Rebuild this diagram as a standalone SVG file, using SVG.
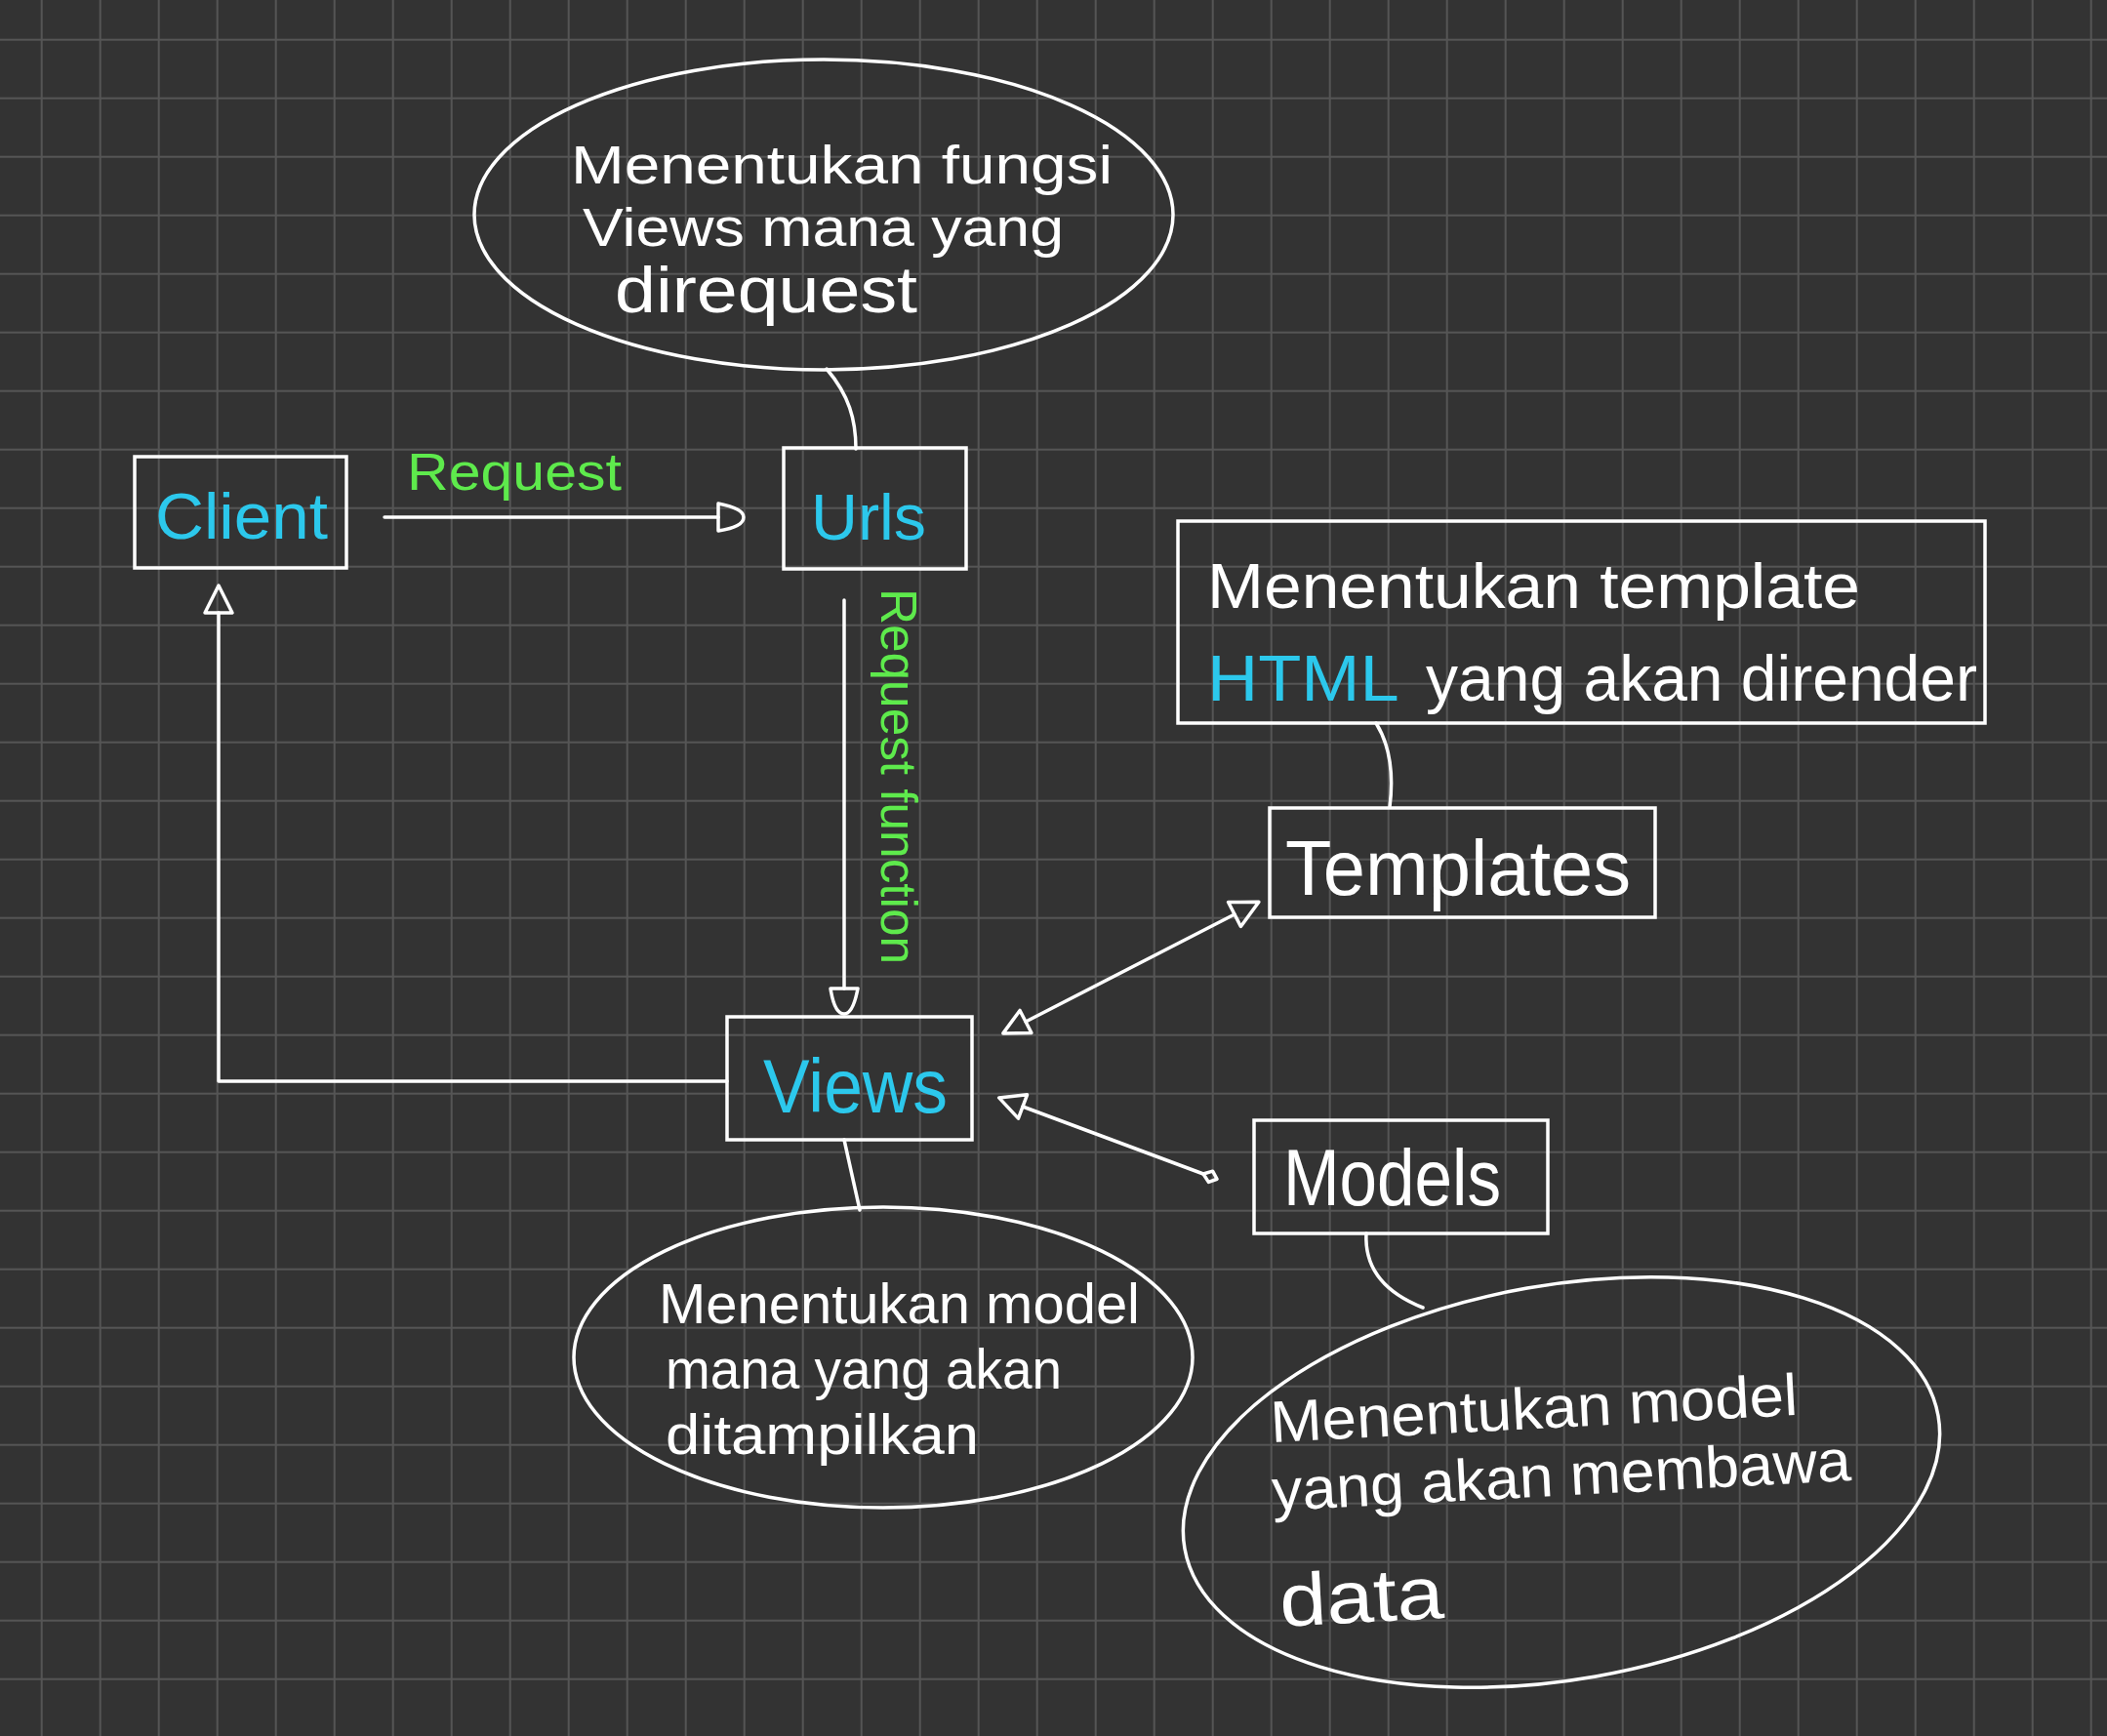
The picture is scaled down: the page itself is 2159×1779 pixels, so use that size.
<svg xmlns="http://www.w3.org/2000/svg" width="2159" height="1779" viewBox="0 0 2159 1779">
  <style>
    .bg { fill: #333333; }
    .shape { fill: none; stroke: #ffffff; stroke-width: 3.5; }
    .wire { fill: none; stroke: #ffffff; stroke-width: 3.5; stroke-linecap: round; stroke-linejoin: round; }
    .txt { font-family: "Liberation Sans", "DejaVu Sans", sans-serif; fill: #ffffff; }
    .cyan { fill: #2cc8ec; }
    .green { fill: #5eea4c; }
  </style>
  <defs>
    <pattern id="grid" patternUnits="userSpaceOnUse" x="12.7" y="10.7" width="60" height="60">
      <path d="M30 0 V60 M0 30 H60" stroke="#555555" stroke-width="2" fill="none"/>
    </pattern>
    <marker id="dHead" markerUnits="userSpaceOnUse" viewBox="-3 -18 34 36" markerWidth="34" markerHeight="36" refX="0" refY="0" orient="auto">
      <path d="M0,-14 L0,14 Q26,10 26,0 Q26,-9 0,-14 Z" fill="none" stroke="#ffffff" stroke-width="3.5" stroke-linejoin="round"/>
    </marker>
    <marker id="tri" markerUnits="userSpaceOnUse" viewBox="-3 -18 36 36" markerWidth="36" markerHeight="36" refX="0" refY="0" orient="auto">
      <path d="M0,-14 L28,0 L0,14 Z" fill="none" stroke="#ffffff" stroke-width="3.5" stroke-linejoin="round"/>
    </marker>
    <marker id="triStart" markerUnits="userSpaceOnUse" viewBox="-3 -18 36 36" markerWidth="36" markerHeight="36" refX="0" refY="0" orient="auto-start-reverse">
      <path d="M0,-13 L26,0 L0,13 Z" fill="none" stroke="#ffffff" stroke-width="3.5" stroke-linejoin="round"/>
    </marker>
    <marker id="dot" markerUnits="userSpaceOnUse" viewBox="-3 -10 22 20" markerWidth="22" markerHeight="20" refX="0" refY="0" orient="auto">
      <path d="M0,0 L8,-6 L15,0 L8,6 Z" fill="none" stroke="#ffffff" stroke-width="3.5" stroke-linejoin="round"/>
    </marker>
  </defs>

  <rect class="bg" x="0" y="0" width="2159" height="1779"/>
  <rect x="0" y="0" width="2159" height="1779" fill="url(#grid)"/>

  <g id="connectors">
    <path class="wire" d="M847,378 C870,405 877,430 877,460"/>
    <path class="wire" d="M1410,741 C1425,765 1428,795 1424,827"/>
    <path class="wire" d="M865,1168 L881,1240"/>
    <path class="wire" d="M1400,1264 C1398,1300 1420,1325 1458,1340"/>
    <path class="wire" d="M394,530 L736,530" marker-end="url(#dHead)"/>
    <path class="wire" d="M865,615 L865,1013" marker-end="url(#dHead)"/>
    <path class="wire" d="M745,1108 L224,1108 L224,628" marker-end="url(#tri)"/>
    <path class="wire" d="M1051,1047 L1265,937" marker-start="url(#triStart)" marker-end="url(#tri)"/>
    <path class="wire" d="M1048,1134 L1233,1203" marker-start="url(#triStart)" marker-end="url(#dot)"/>
    <text class="txt green" x="417" y="502" font-size="54" textLength="220" lengthAdjust="spacingAndGlyphs">Request</text>
    <text class="txt green" transform="translate(903,603) rotate(90)" x="0" y="0" font-size="52" textLength="385" lengthAdjust="spacingAndGlyphs">Request function</text>
  </g>

  <g id="note-urls">
    <ellipse class="shape" cx="844" cy="220" rx="358" ry="159"/>
    <text class="txt" font-size="56">
      <tspan x="585" y="188" textLength="555" lengthAdjust="spacingAndGlyphs">Menentukan fungsi</tspan>
      <tspan x="597" y="252" textLength="493" lengthAdjust="spacingAndGlyphs">Views mana yang</tspan>
    </text>
    <text class="txt" font-size="66" x="630" y="320" textLength="310" lengthAdjust="spacingAndGlyphs">direquest</text>
  </g>

  <g id="node-client">
    <rect class="shape" x="138" y="468" width="217" height="114"/>
    <text class="txt cyan" x="159" y="552" font-size="66" textLength="177" lengthAdjust="spacingAndGlyphs">Client</text>
  </g>

  <g id="node-urls">
    <rect class="shape" x="803" y="459" width="187" height="124"/>
    <text class="txt cyan" x="831" y="553" font-size="66" textLength="118" lengthAdjust="spacingAndGlyphs">Urls</text>
  </g>

  <g id="note-templates">
    <rect class="shape" x="1207" y="534" width="827" height="207"/>
    <text class="txt" font-size="64" x="1237" y="623" textLength="669" lengthAdjust="spacingAndGlyphs">Menentukan template</text>
    <text class="txt" font-size="66" y="718">
      <tspan class="cyan" x="1237" textLength="194" lengthAdjust="spacingAndGlyphs">HTML</tspan>
      <tspan x="1461" textLength="565" lengthAdjust="spacingAndGlyphs">yang akan dirender</tspan>
    </text>
  </g>

  <g id="node-templates">
    <rect class="shape" x="1301" y="828" width="395" height="112"/>
    <text class="txt" x="1317" y="917" font-size="80" textLength="354" lengthAdjust="spacingAndGlyphs">Templates</text>
  </g>

  <g id="node-views">
    <rect class="shape" x="745" y="1042" width="251" height="126"/>
    <text class="txt cyan" x="782" y="1140" font-size="78" textLength="189" lengthAdjust="spacingAndGlyphs">Views</text>
  </g>

  <g id="node-models">
    <rect class="shape" x="1285" y="1148" width="301" height="116"/>
    <text class="txt" x="1315" y="1235" font-size="82" textLength="223" lengthAdjust="spacingAndGlyphs">Models</text>
  </g>

  <g id="note-views">
    <ellipse class="shape" cx="905" cy="1391" rx="317" ry="154"/>
    <text class="txt" font-size="57">
      <tspan x="675" y="1356" textLength="493" lengthAdjust="spacingAndGlyphs">Menentukan model</tspan>
      <tspan x="682" y="1423" textLength="406" lengthAdjust="spacingAndGlyphs">mana yang akan</tspan>
      <tspan x="682" y="1490" textLength="321" lengthAdjust="spacingAndGlyphs">ditampilkan</tspan>
    </text>
  </g>

  <g id="note-models">
    <ellipse class="shape" cx="1600" cy="1519" rx="392" ry="202" transform="rotate(-10 1600 1519)"/>
    <g transform="rotate(-3 1307 1560)">
      <text class="txt" font-size="60">
        <tspan x="1307" y="1478" textLength="541" lengthAdjust="spacingAndGlyphs">Menentukan model</tspan>
        <tspan x="1305" y="1548" textLength="594" lengthAdjust="spacingAndGlyphs">yang akan membawa</tspan>
      </text>
      <text class="txt" font-size="76" x="1307" y="1667" textLength="168" lengthAdjust="spacingAndGlyphs">data</text>
    </g>
  </g>
</svg>
